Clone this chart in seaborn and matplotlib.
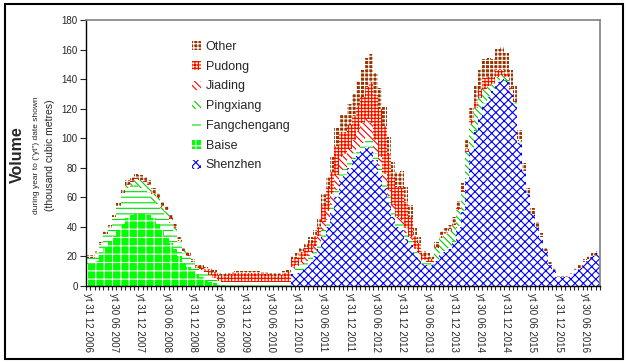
import numpy as np
import matplotlib
matplotlib.use("Agg")
import matplotlib.pyplot as plt
import matplotlib.patches as mpatches
import seaborn as sns

# Month-by-month volumes, Dec 2006 .. Sep 2016 (year to date, thousand m3)
shenzhen = [
    0, 0, 0, 0, 0, 0, 0, 0, 0, 0, 0, 0,
    0, 0, 0, 0, 0, 0, 0, 0, 0, 0, 0, 0,
    0, 0, 0, 0, 0, 0, 0, 0, 0, 0, 0, 0,
    0, 0, 0, 0, 0, 0, 0, 0, 0, 0, 0, 8,
    9, 11, 13, 16, 20, 25, 33, 40, 50, 60, 72, 75,
    80, 85, 88, 92, 94, 92, 85, 76, 66, 56, 47, 40,
    38, 32, 28, 22, 19, 15, 14, 14, 17, 22, 23, 25,
    30, 40, 50, 72, 92, 105, 115, 123, 128, 132, 138, 140,
    139, 132, 123, 97, 78, 62, 49, 40, 33, 24, 14.5, 11,
    6, 6, 6, 8, 10.5, 12.5, 16, 18.5, 20.5, 22.5,
]
baise = [
    15, 15, 17, 21, 26, 30, 34, 38, 42, 46, 48, 49,
    49, 49, 48, 46, 42, 38, 34, 29, 25, 20, 16, 13,
    10, 8, 6, 4, 3, 2, 1, 0.5, 0, 0, 0, 0,
    0, 0, 0, 0, 0, 0, 0, 0, 0, 0, 0, 0,
    0, 0, 0, 0, 0, 0, 0, 0, 0, 0, 0, 0,
    0, 0, 0, 0, 0, 0, 0, 0, 0, 0, 0, 0,
    0, 0, 0, 0, 0, 0, 0, 0, 0, 0, 0, 0,
    0, 0, 0, 0, 0, 0, 0, 0, 0, 0, 0, 0,
    0, 0, 0, 0, 0, 0, 0, 0, 0, 0, 0, 0,
    0, 0, 0, 0, 0, 0, 0, 0, 0, 0,
]
fangchengang = [
    4, 4, 5, 7, 9, 9, 13, 16, 20, 20.5, 19.5, 19.5,
    17.5, 16.5, 15.5, 11, 13.5, 11.5, 13.5, 13.5, 12.5, 9.5, 6.5, 7,
    5.5, 4.2, 4.7, 5.3, 4.3, 3.5, 2.5, 2, 2.5, 2.5, 2.5, 2.5,
    2.5, 2.5, 2.5, 2.5, 2.5, 2.5, 2.5, 2.5, 2.5, 2.5, 2.5, 3,
    3, 4, 4, 4, 4, 5, 5, 5, 5, 5, 5, 5,
    5, 5, 5, 5, 6, 6, 5, 5, 5, 5, 5, 4,
    4, 4, 3, 3, 2, 2, 2, 1, 0.5, 0.5, 0.5, 0.5,
    0.5, 0.5, 0.5, 0.5, 0.5, 0.5, 0.5, 0.5, 0.5, 0.5, 0.5, 0.5,
    0.5, 0.5, 0.5, 0.5, 0, 0, 0, 0, 0, 0, 0, 0,
    0, 0, 0, 0, 0, 0, 0, 0, 0, 0,
]
pingxiang = [
    0, 0, 0, 0, 0, 0, 0, 0, 1, 2, 3, 4,
    5, 5, 5, 5, 4, 4, 3, 3, 2, 1, 1, 0.5,
    0.5, 0.3, 0.3, 0.2, 0.2, 0, 0, 0, 0, 0, 0, 0,
    0, 0, 0, 0, 0, 0, 0, 0, 0, 0, 0, 0,
    0, 0, 0, 0, 0, 0, 0, 0, 0, 0, 0, 0,
    0, 0, 0, 0, 0, 0, 0, 0, 0, 0, 0, 0,
    0, 0, 0, 0, 0, 0, 0, 1, 8, 10, 12, 12,
    11, 11, 13, 18, 17, 15, 12, 10, 7, 4, 3, 2,
    2, 1, 1, 0.5, 0, 0, 0, 0, 0, 0, 0, 0,
    0, 0, 0, 0, 0, 0, 0, 0, 0, 0,
]
jiading = [
    0, 0, 0, 0, 0, 0, 0, 0, 0, 0, 0, 0,
    0, 0, 0, 0, 0, 0, 0, 0, 0, 0, 0, 0,
    0, 0, 0, 0, 0, 0, 0, 0, 0, 0, 0, 0,
    0, 0, 0, 0, 0, 0, 0, 0, 0, 0, 0, 2,
    2, 2, 3, 3, 3, 4, 5, 6, 7, 10, 10, 9,
    8, 9, 12, 13, 13, 12, 9, 6, 5, 4, 3, 3,
    3, 3, 2, 1, 1, 0.5, 0, 0, 0, 0, 0, 0,
    0, 0, 0, 0, 0, 0, 0, 0, 0, 0, 0, 0,
    0, 0, 0, 0, 0, 0, 0, 0, 0, 0, 0, 0,
    0, 0, 0, 0, 0, 0, 0, 0, 0, 0,
]
pudong = [
    0, 0, 0, 0, 0, 0, 0, 0, 0, 0.5, 0.5, 0.5,
    0.5, 0.5, 0.5, 1, 0.5, 0.5, 0.5, 0.5, 0.5, 0.5, 0.5, 0.5,
    0.5, 1, 1.5, 2, 3, 4, 4, 4, 5, 5.5, 6, 6,
    6, 6, 6, 6, 5.5, 5.5, 5, 4.5, 5, 6, 7, 5,
    5, 6, 6, 6, 7, 6, 12, 15, 15, 20, 17, 15,
    16, 16, 17, 18, 22, 28, 30, 33, 32, 24, 19, 20,
    21, 18, 14, 8, 7, 3.5, 3, 2, 1, 1, 1, 1,
    1, 1, 1, 2, 3, 4, 6, 7, 6, 5, 5, 4,
    2, 1, 1, 0.5, 0, 0, 0, 0, 0, 0, 0, 0,
    0, 0, 0, 0, 0, 0, 0, 0, 0, 0,
]
other = [
    2, 2, 2, 2, 2, 2, 2, 2, 2, 3, 3, 3,
    3, 3, 3, 3, 3, 3, 3, 2, 2, 2, 2, 2,
    1.5, 1.5, 1.5, 1.5, 1.5, 1.5, 1.5, 1.5, 1.5, 1.5, 1.5, 1.5,
    1.5, 1.5, 1.5, 1.5, 1.5, 1.5, 1.5, 1.5, 1.5, 1.5, 1.5, 2,
    3, 3, 3, 4, 4, 5, 7, 8, 10, 12, 12, 12,
    14, 15, 17, 18, 19, 19, 15, 14, 13, 12, 10, 10,
    12, 10, 8, 5, 4, 3, 3, 2, 3, 4, 3, 3,
    4, 5, 5, 6, 8, 11, 13, 13, 13, 12, 14, 15,
    14, 12, 10, 7, 5, 4, 3.5, 3.5, 3, 2, 1.5, 1,
    1, 1, 1, 1, 1.5, 1.5, 2, 1.5, 1.5, 1.5,
]

tick_labels = [
    "yt 31 12 2006", "yt 30 06 2007", "yt 31 12 2007", "yt 30 06 2008",
    "yt 31 12 2008", "yt 30 06 2009", "yt 31 12 2009", "yt 30 06 2010",
    "yt 31 12 2010", "yt 30 06 2011", "yt 31 12 2011", "yt 30 06 2012",
    "yt 31 12 2012", "yt 30 06 2013", "yt 31 12 2013", "yt 30 06 2014",
    "yt 31 12 2014", "yt 30 06 2015", "yt 31 12 2015", "yt 30 06 2016",
]

# bottom -> top stacking order, with the Excel-like fill patterns
series = [
    ("Shenzhen", shenzhen, "white", "#0000ff", "xxxx"),
    ("Baise", baise, "#00ff00", "white", "++"),
    ("Fangchengang", fangchengang, "white", "#00dd00", "---"),
    ("Pingxiang", pingxiang, "white", "#00cc00", "\\\\\\\\\\"),
    ("Jiading", jiading, "white", "#ff0000", "\\\\\\\\\\"),
    ("Pudong", pudong, "#ffffcc", "#ff0000", "+++++"),
    ("Other", other, "#993300", "white", "++++"),
]

sns.set_style("white")
plt.rcParams["font.family"] = ["Liberation Sans", "DejaVu Sans"]
plt.rcParams["hatch.linewidth"] = 0.8

n = len(shenzhen)
x = np.arange(n)

fig = plt.figure(figsize=(6.28, 3.63), dpi=100)
ax = fig.add_axes([86 / 628, 1 - 286 / 363, 514 / 628, 266 / 363])

bottom = np.zeros(n)
handles = []
for name, vals, face, hcol, hatch in series:
    vals = np.asarray(vals, dtype=float)
    ax.bar(x, vals, bottom=bottom, width=1.0, color=face, edgecolor=hcol,
           hatch=hatch, linewidth=0)
    bottom = bottom + vals
    handles.append(mpatches.Patch(facecolor=face, edgecolor=hcol, hatch=hatch,
                                  linewidth=0, label=name))

ax.set_xlim(-0.5, n - 0.5)
ax.set_ylim(0, 180)
ax.set_yticks(np.arange(0, 181, 20))
ax.tick_params(axis="y", labelsize=7, length=4, width=0.8, direction="out",
               left=True, pad=2)
ax.set_xticks(np.arange(0, n, 6)[:len(tick_labels)])
ax.set_xticklabels(tick_labels, rotation=-90, fontsize=7, va="top", ha="center")
ax.set_xticks(np.arange(-0.5, n, 1), minor=True)
ax.tick_params(axis="x", which="major", length=0, pad=5)
ax.tick_params(axis="x", which="minor", length=3, width=0.8, direction="out",
               bottom=True)

for s in ["left", "bottom"]:
    ax.spines[s].set_color("black")
    ax.spines[s].set_linewidth(1)
for s in ["top", "right"]:
    ax.spines[s].set_color("#808080")
    ax.spines[s].set_linewidth(1.2)

fig.text(17 / 628, 1 - 155 / 363, "Volume", rotation=90, fontsize=11.5,
         fontweight="bold", ha="center", va="center")
fig.text(37 / 628, 1 - 155 / 363, 'during year to ("yt") date shown',
         rotation=90, fontsize=6, ha="center", va="center")
fig.text(50 / 628, 1 - 155 / 363, "(thousand cubic metres)", rotation=90,
         fontsize=7.5, ha="center", va="center")

ax.legend(handles=handles[::-1], loc="upper left",
          bbox_to_anchor=(192 / 628, 1 - 41 / 363),
          bbox_transform=fig.transFigure, frameon=False, fontsize=9,
          handlelength=0.7, handleheight=0.7, handletextpad=0.4,
          labelspacing=0.62, borderpad=0, borderaxespad=0)

fig.patches.append(mpatches.Rectangle((5 / 628, 4 / 363), 618 / 628, 355 / 363,
                                      transform=fig.transFigure, fill=False,
                                      edgecolor="black", linewidth=1.5))

fig.savefig("out.png", dpi=100)
